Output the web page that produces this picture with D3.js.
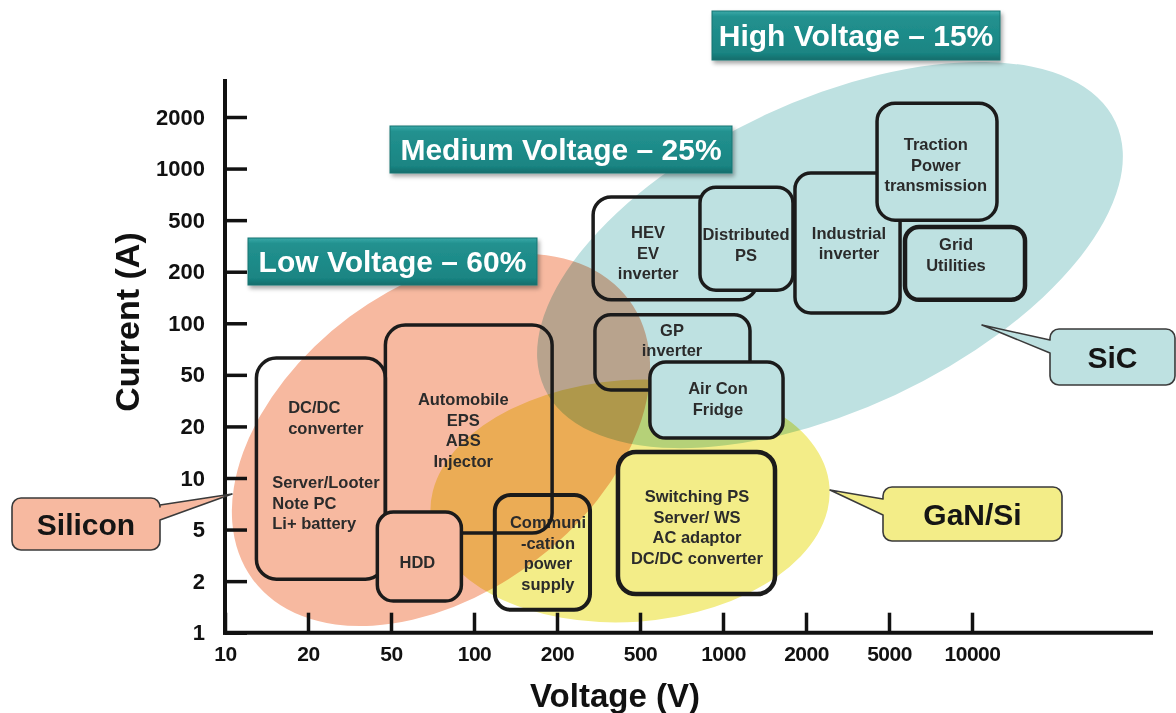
<!DOCTYPE html>
<html><head><meta charset="utf-8">
<script src="https://cdn.jsdelivr.net/npm/d3@7"></script>
<style>
html,body{margin:0;padding:0;background:#fff;}
svg{display:block;font-family:"Liberation Sans",Arial,Helvetica,sans-serif;}
</style></head><body>
<svg id="chart" width="1176" height="713"></svg>
<script>
// ---------------- data ----------------
const xTicks = [10,20,50,100,200,500,1000,2000,5000,10000];
const yTicks = [1,2,5,10,20,50,100,200,500,1000,2000];
const xTitle = "Voltage (V)";
const yTitle = "Current (A)";

// application areas (voltage range V, current range A)
const boxNames   = ["DC/DC","Communication","Automobile","HDD","Switching PS","HEV","GP inverter","Distributed PS","Air Con","Industrial","Traction","Grid"];
const boxVoltage = [[13,47],[119,288],[47,192],[43,90],[392,1544],[298,1330],[304,1253],[825,1794],[543,1651],[1824,5484],[4382,12320],[5715,15570]];
const boxCurrent = [[2.07,62.7],[1.36,7.96],[4.7,97.7],[1.53,6.33],[1.68,14.2],[137,682],[38.2,112],[156,779],[17.1,59.5],[115,942],[500,2410],[137,443]];
const boxLines = [
  [["DC/DC","converter"],["Server/Looter","Note PC","Li+ battery"]],
  [["Communi","-cation","power","supply"]],
  [["Automobile","EPS","ABS","Injector"]],
  [["HDD"]],
  [["Switching PS","Server/ WS","AC adaptor","DC/DC converter"]],
  [["HEV","EV","inverter"]],
  [["GP","inverter"]],
  [["Distributed","PS"]],
  [["Air Con","Fridge"]],
  [["Industrial","inverter"]],
  [["Traction","Power","transmission"]],
  [["Grid","Utilities"]]
];

// technology regions: centre [V, A], end of major axis [V, A], minor/major ratio, callout tip [V, A]
const regionNames   = ["Silicon","GaN/Si","SiC"];
const regionCenter  = [[75.9,16.7],[448,7.34],[2606,269]];
const regionAxisEnd = [[443,136.7],[2592,8.86],[33150,1873]];
const regionRatio   = [0.654,0.605,0.49];
const regionTip     = [[10.6,8.07],[2606,8.51],[10870,97.7]];

const bannerLabels = ["Low Voltage \u2013 60%","Medium Voltage \u2013 25%","High Voltage \u2013 15%"];

// ---------------- layout / style ----------------
const W = 1176, H = 713;
const X0 = 225, XSTEP = 83, Y0 = 632.7, YSTEP = 51.57;
const regionFill = ["#f7b9a0","#f3ed88","#bee1e1"];
const boxLayout = [
  {groups:[{tx:.246,ty:.249,anchor:"start"},{tx:.123,ty:.588,anchor:"start"}], r:20, sw:3.5, fill:"none"},
  {groups:[{tx:.558,ty:.287}], r:16, sw:4, fill:"none"},
  {groups:[{tx:.467,ty:.385}], r:20, sw:3.5, fill:"none"},
  {groups:[{tx:.476,ty:.63}], r:16, sw:3.5, fill:"#f7b9a0"},
  {groups:[{tx:.503,ty:.352}], r:18, sw:4.5, fill:"none"},
  {groups:[{tx:.335,ty:.398}], r:18, sw:3.5, fill:"none"},
  {groups:[{tx:.497,ty:.28}], r:16, sw:3.5, fill:"none"},
  {groups:[{tx:.495,ty:.515}], r:16, sw:3.5, fill:"#bee1e1"},
  {groups:[{tx:.511,ty:.421}], r:16, sw:3.5, fill:"#bee1e1"},
  {groups:[{tx:.514,ty:.471}], r:16, sw:3.5, fill:"none"},
  {groups:[{tx:.49,ty:.402}], r:18, sw:3.5, fill:"#bee1e1"},
  {groups:[{tx:.425,ty:.315}], r:14, sw:4.5, fill:"none"}
];
const calloutLayout = [
  {x:12, y:498, w:148, h:52, side:"right", b1:505, b2:520},
  {x:883, y:487, w:179, h:54, side:"left", b1:499, b2:515},
  {x:1050, y:329, w:125, h:56, side:"left", b1:340, b2:353}
];
const bannerLayout = [
  {x:248, y:238, w:289, h:47},
  {x:390, y:126, w:342, h:47},
  {x:712, y:11, w:288, h:49}
];

// ---------------- scales ----------------
const x = d3.scaleLog().domain(xTicks).range(xTicks.map((d,i)=>X0 + i*XSTEP));
const y = d3.scaleLog().domain(yTicks).range(yTicks.map((d,i)=>Y0 - i*YSTEP));

const svg = d3.select("#chart");
const defs = svg.append("defs");
const grad = defs.append("linearGradient").attr("id","bannerGrad").attr("x1",0).attr("y1",0).attr("x2",0).attr("y2",1);
grad.append("stop").attr("offset","0%").attr("stop-color","#3aa9a8");
grad.append("stop").attr("offset","12%").attr("stop-color","#22918f");
grad.append("stop").attr("offset","85%").attr("stop-color","#1a8583");
grad.append("stop").attr("offset","100%").attr("stop-color","#126d6b");
const f = defs.append("filter").attr("id","shadow").attr("x","-10%").attr("y","-20%").attr("width","130%").attr("height","160%");
f.append("feDropShadow").attr("dx",2).attr("dy",3).attr("stdDeviation",2).attr("flood-color","#000").attr("flood-opacity",0.35);

// ---------------- regions (ellipses) ----------------
const gReg = svg.append("g");
regionNames.forEach((name,i)=>{
  const cx = x(regionCenter[i][0]), cy = y(regionCenter[i][1]);
  const ex = x(regionAxisEnd[i][0]), ey = y(regionAxisEnd[i][1]);
  const a = Math.hypot(ex-cx, ey-cy);
  const ang = Math.atan2(ey-cy, ex-cx)*180/Math.PI;
  gReg.append("ellipse")
    .attr("cx",cx).attr("cy",cy).attr("rx",a).attr("ry",a*regionRatio[i])
    .attr("transform",`rotate(${ang},${cx},${cy})`)
    .attr("fill",regionFill[i])
    .style("mix-blend-mode","multiply");
});

// ---------------- axes ----------------
const xAxis = d3.axisBottom(x).tickValues(xTicks).tickFormat(d=>String(d)).tickSize(-20).tickPadding(13);
const yAxis = d3.axisLeft(y).tickValues(yTicks).tickFormat(d=>String(d)).tickSize(-22).tickPadding(20);
const gx = svg.append("g").attr("transform",`translate(0,${Y0})`).call(xAxis);
const gy = svg.append("g").attr("transform",`translate(${X0},0)`).call(yAxis);
[gx,gy].forEach(g=>{
  g.select(".domain").remove();
  g.selectAll(".tick line").attr("stroke","#111").attr("stroke-width",3.5);
  g.selectAll(".tick text").attr("fill","#111").attr("font-weight","bold")
    .attr("font-family","'Liberation Sans',Arial,sans-serif");
});
gx.selectAll(".tick text").attr("font-size",21).attr("letter-spacing","-0.5");
gy.selectAll(".tick text").attr("font-size",22);
svg.append("line").attr("x1",X0).attr("x2",X0).attr("y1",Y0+2).attr("y2",y(2000)-38)
  .attr("stroke","#111").attr("stroke-width",4);
svg.append("line").attr("x1",X0-2).attr("x2",x(10000)+181).attr("y1",Y0).attr("y2",Y0)
  .attr("stroke","#111").attr("stroke-width",4);

svg.append("text").attr("transform",`translate(139,322) rotate(-90)`)
  .attr("text-anchor","middle").attr("font-size",34).attr("font-weight","bold").attr("fill","#111")
  .text(yTitle);
svg.append("text").attr("x",615).attr("y",707)
  .attr("text-anchor","middle").attr("font-size",33).attr("font-weight","bold").attr("fill","#111")
  .text(xTitle);

// ---------------- application boxes ----------------
const gBox = svg.append("g");
boxNames.forEach((name,i)=>{
  const L = boxLayout[i];
  const x1 = x(boxVoltage[i][0]), x2 = x(boxVoltage[i][1]);
  const y1 = y(boxCurrent[i][1]), y2 = y(boxCurrent[i][0]);
  const g = gBox.append("g");
  g.append("rect").attr("x",x1).attr("y",y1).attr("width",x2-x1).attr("height",y2-y1)
    .attr("rx",L.r).attr("ry",L.r)
    .attr("fill",L.fill).attr("stroke","#1b1b1b").attr("stroke-width",L.sw);
  boxLines[i].forEach((lines,gi)=>{
    const gl = L.groups[gi];
    const tx = x1 + gl.tx*(x2-x1), ty = y1 + gl.ty*(y2-y1);
    const t = g.append("text").attr("x",tx).attr("y",ty)
      .attr("text-anchor",gl.anchor||"middle").attr("font-size",16.5).attr("font-weight","bold")
      .attr("fill","#2b2b2b");
    lines.forEach((ln,k)=>{
      t.append("tspan").attr("x",tx).attr("dy",k===0?0:20.6).text(ln);
    });
  });
});

// ---------------- banners ----------------
bannerLabels.forEach((lab,i)=>{
  const b = bannerLayout[i];
  svg.append("rect").attr("x",b.x).attr("y",b.y).attr("width",b.w).attr("height",b.h)
    .attr("fill","url(#bannerGrad)").attr("stroke","#167472").attr("stroke-width",1)
    .attr("filter","url(#shadow)");
  svg.append("text").attr("x",b.x+b.w/2).attr("y",b.y+b.h/2+10.5)
    .attr("text-anchor","middle").attr("font-size",30).attr("font-weight","bold").attr("fill","#fff")
    .text(lab);
});

// ---------------- callouts ----------------
regionNames.forEach((name,i)=>{
  const c = calloutLayout[i], r = 9;
  const px = x(regionTip[i][0]), py = y(regionTip[i][1]);
  const p = d3.path();
  p.moveTo(c.x+r, c.y);
  p.lineTo(c.x+c.w-r, c.y);
  p.arcTo(c.x+c.w, c.y, c.x+c.w, c.y+r, r);
  if (c.side==="right"){ p.lineTo(c.x+c.w, c.b1); p.lineTo(px,py); p.lineTo(c.x+c.w, c.b2); }
  p.lineTo(c.x+c.w, c.y+c.h-r);
  p.arcTo(c.x+c.w, c.y+c.h, c.x+c.w-r, c.y+c.h, r);
  p.lineTo(c.x+r, c.y+c.h);
  p.arcTo(c.x, c.y+c.h, c.x, c.y+c.h-r, r);
  if (c.side==="left"){ p.lineTo(c.x, c.b2); p.lineTo(px,py); p.lineTo(c.x, c.b1); }
  p.lineTo(c.x, c.y+r);
  p.arcTo(c.x, c.y, c.x+r, c.y, r);
  p.closePath();
  svg.append("path").attr("d",p.toString()).attr("fill",regionFill[i])
    .attr("stroke","#3a3a3a").attr("stroke-width",1.6).attr("stroke-linejoin","round");
  svg.append("text").attr("x",c.x+c.w/2).attr("y",c.y+c.h/2+10.5)
    .attr("text-anchor","middle").attr("font-size",30).attr("font-weight","bold").attr("fill","#151515")
    .text(name);
});
</script>
</body></html>
